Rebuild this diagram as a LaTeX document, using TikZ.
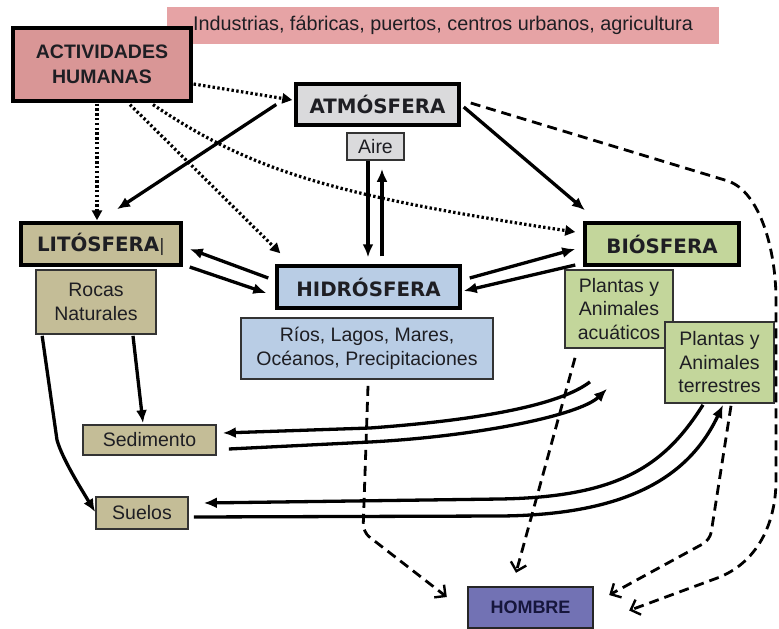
\documentclass[tikz,border=0pt]{standalone}
\usepackage{fontspec}
\setmainfont{Liberation Sans}
\newfontfamily\sphfont{DejaVu Sans}
\usetikzlibrary{arrows.meta,calc}
\definecolor{bannerc}{RGB}{230,163,165}
\definecolor{actc}{RGB}{217,150,150}
\definecolor{grayc}{RGB}{218,218,220}
\definecolor{tanc}{RGB}{196,189,151}
\definecolor{bluec}{RGB}{185,205,229}
\definecolor{greenc}{RGB}{195,214,155}
\definecolor{hombc}{RGB}{114,114,180}
\definecolor{txtc}{RGB}{30,30,35}
\definecolor{navyc}{RGB}{22,22,60}
\tikzset{
  bigbox/.style={draw=black, line width=3.5pt, inner sep=0pt, text=txtc, align=center},
  smallbox/.style={draw=black!80, line width=1.7pt, inner sep=0pt, text=txtc, align=center,
    font=\fontsize{19.5}{23.5}\selectfont},
  sphtitle/.style={font=\sphfont\bfseries\fontsize{19.8}{23}\selectfont},
  solidarr/.style={line width=3.3pt, -{Latex[length=13pt,width=11pt]}},
  dotarr/.style={line width=3.2pt, dash pattern=on 2.4pt off 2.4pt, -{Triangle[length=10pt,width=10pt]}},
  dasharr/.style={line width=2.8pt, dash pattern=on 10pt off 6pt, rounded corners=8pt,
    -{Straight Barb[length=8pt,width=16pt,line width=2.4pt]}},
  curvarr/.style={line width=3.3pt, -{Latex[length=13pt,width=11pt]}}
}
\begin{document}
\begin{tikzpicture}[x=1pt,y=-1pt]
\useasboundingbox (0,0) rectangle (779,629);
% nodes
\node[fill=bannerc, minimum width=552pt, minimum height=37pt, inner sep=0pt, text=txtc,
  font=\fontsize{19.8}{23}\selectfont] (banner) at (443,25.5)
  {Industrias, fábricas, puertos, centros urbanos, agricultura};
\node[bigbox, fill=actc, line width=3.2pt, minimum width=178pt, minimum height=73pt,
  font=\bfseries\fontsize{19.5}{25}\selectfont] (act) at (102,64.5) {ACTIVIDADES\\HUMANAS};
\node[bigbox, fill=grayc, sphtitle, minimum width=163pt, minimum height=41pt] (atm) at (377.5,104.5) {ATMÓSFERA};
\node[smallbox, fill=grayc, minimum width=57pt, minimum height=27pt] (aire) at (375.5,146.5) {Aire};
\node[bigbox, fill=tanc, sphtitle, minimum width=160pt, minimum height=42pt] (lit) at (101,244)
  {LITÓSFERA{\mdseries\fontsize{17}{20}\selectfont|}};
\node[smallbox, fill=tanc, minimum width=120pt, minimum height=64pt] (rocas) at (96,302) {Rocas\\Naturales};
\node[bigbox, fill=bluec, sphtitle, minimum width=183pt, minimum height=42pt] (hid) at (368.5,287) {HIDRÓSFERA};
\node[smallbox, fill=bluec, minimum width=252pt, minimum height=61pt] (rios) at (367,348.5)
  {Ríos, Lagos, Mares,\\Océanos, Precipitaciones};
\node[bigbox, fill=greenc, sphtitle, minimum width=154pt, minimum height=42pt] (bio) at (662,244) {BIÓSFERA};
\node[smallbox, fill=greenc, minimum width=108pt, minimum height=78pt] (acu) at (619,309)
  {Plantas y\\Animales\\acuáticos};
\node[smallbox, fill=greenc, minimum width=109pt, minimum height=81pt] (ter) at (719.5,362.5)
  {Plantas y\\Animales\\terrestres};
\node[smallbox, fill=tanc, minimum width=133pt, minimum height=30pt] (sed) at (149.5,440) {Sedimento};
\node[smallbox, fill=tanc, minimum width=92pt, minimum height=32pt] (sue) at (142,513) {Suelos};
\node[draw=black!85, line width=2.4pt, fill=hombc, minimum width=125pt, minimum height=41pt,
  inner sep=0pt, text=navyc, font=\bfseries\fontsize{18}{21}\selectfont] (hom) at (530.5,607.5) {HOMBRE};

% dotted arrows from Actividades humanas
\draw[dotarr] ($(act.east)+(1,19.5)$) -- ($(atm.west)+(-2,-4.5)$);
\draw[dotarr] ($(act.south)+(-5,1)$) -- ($(lit.north)+(-4,-1)$);
\draw[dotarr] ($(act.south)+(28,2)$) -- ($(hid.north west)+(5,-11)$);
\draw[dotarr] ($(act.south)+(51,2)$) .. controls (250,170) and (330,195) .. ($(bio.west)+(-8,-12)$);

% atmosphere
\draw[solidarr] ($(atm.west)+(-18,0)$) -- ($(lit.north)+(16,-12)$);
\draw[solidarr] ($(atm.east)+(3,2.5)$) -- ($(bio.north)+(-77,-11)$);
\draw[solidarr] ($(aire.south)+(-7.5,0)$) -- ($(hid.north)+(-0.5,-7)$);
\draw[solidarr] ($(hid.north)+(13.5,-8)$) -- ($(aire.south)+(6.5,8)$);

% hidrosfera exchanges
\draw[solidarr] ($(hid.west)+(-7,-9)$) -- ($(lit.east)+(7,5)$);
\draw[solidarr] ($(lit.east)+(7,23)$) -- ($(hid.west)+(-9,6)$);
\draw[solidarr] ($(hid.east)+(8,-9)$) -- ($(bio.west)+(-8,5)$);
\draw[solidarr] ($(bio.west)+(-8,21)$) -- ($(hid.east)+(2,4)$);

% rocas
\draw[solidarr] ($(rocas.south)+(37,1)$) -- ($(sed.north)+(-6.5,-1)$);
\draw[solidarr] ($(rocas.south west)+(7,1)$) -- (57,440) .. controls (62,458) and (80,487) .. ($(sue.west)+(0,-1)$);

% sedimento <-> acuaticos
\draw[curvarr] ($(acu.south)+(-29,33)$) .. controls (560,405) and (480,420) .. (370,428) -- ($(sed.east)+(6,-7)$);
\draw[curvarr] ($(sed.east)+(12,9)$) -- (370,442) .. controls (480,436) and (580,415) .. ($(acu.south)+(-12,40)$);

% suelos <-> terrestres
\draw[curvarr] ($(ter.south)+(-16.5,1)$) .. controls (665,465) and (620,497) .. (500,499) -- ($(sue.east)+(15,-10)$);
\draw[curvarr] ($(sue.east)+(5,4)$) -- (500,516) .. controls (630,515) and (690,475) .. ($(ter.south)+(3.5,1)$);

% dashed arrows to Hombre
\draw[dasharr] ($(rios.south)+(1,6)$) -- (363,532) -- ($(hom.west)+(-20,-10.5)$);
\draw[dasharr] ($(acu.south)+(-44,9)$) -- ($(hom.north)+(-14.5,-13)$);
\draw[dasharr] ($(ter.south)+(11.5,2)$) -- (710,540) -- ($(hom.east)+(15,-12.5)$);
\draw[line width=2.8pt, dash pattern=on 10pt off 6pt, -{Straight Barb[length=8pt,width=16pt,line width=2.4pt]}]
  ($(atm.east)+(10,-1.5)$) -- (728,181) .. controls (760,192) and (776,250) .. (776,300)
  -- (776,480) .. controls (776,520) and (760,560) .. (720,577) -- ($(hom.east)+(35,3)$);
\end{tikzpicture}
\end{document}
